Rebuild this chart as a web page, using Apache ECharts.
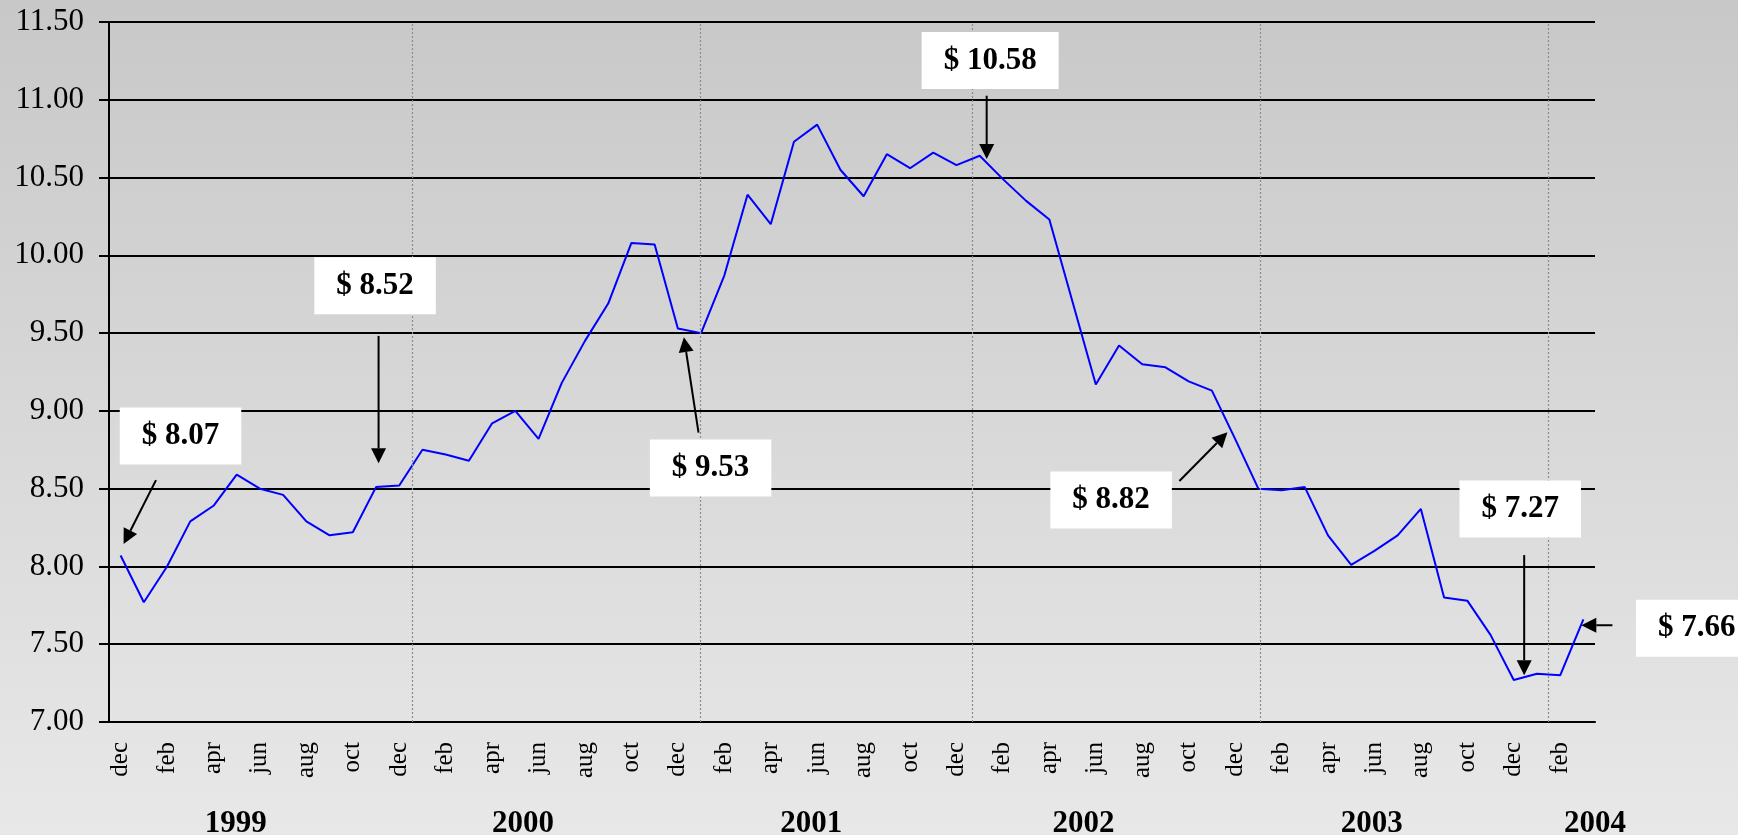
<!DOCTYPE html>
<html>
<head>
<meta charset="utf-8">
<script src="https://cdn.jsdelivr.net/npm/echarts@6/dist/echarts.min.js"></script>
<style>
  html, body { margin: 0; padding: 0; }
  #chart { width: 1738px; height: 835px; }
</style>
</head>
<body>
<div id="chart"></div>
<script>
// Monthly categories, Dec 1998 through Mar 2004
const months = [
  'dec',
  'jan','feb','mar','apr','may','jun','jul','aug','sep','oct','nov','dec',
  'jan','feb','mar','apr','may','jun','jul','aug','sep','oct','nov','dec',
  'jan','feb','mar','apr','may','jun','jul','aug','sep','oct','nov','dec',
  'jan','feb','mar','apr','may','jun','jul','aug','sep','oct','nov','dec',
  'jan','feb','mar','apr','may','jun','jul','aug','sep','oct','nov','dec',
  'jan','feb','mar'
];

// Monthly price, US$
const prices = [
  8.07,
  7.77, 8.00, 8.29, 8.39, 8.59, 8.50, 8.46, 8.29, 8.20, 8.22, 8.51, 8.52,
  8.75, 8.72, 8.68, 8.92, 9.00, 8.82, 9.18, 9.45, 9.69, 10.08, 10.07, 9.53,
  9.50, 9.87, 10.39, 10.20, 10.73, 10.84, 10.55, 10.38, 10.65, 10.56, 10.66, 10.58,
  10.64, 10.49, 10.35, 10.23, 9.70, 9.17, 9.42, 9.30, 9.28, 9.19, 9.13, 8.82,
  8.50, 8.49, 8.51, 8.20, 8.01, 8.10, 8.20, 8.37, 7.80, 7.78, 7.56, 7.27,
  7.31, 7.30, 7.66
];

// Year captions under the month labels, placed in month units from the left edge
const yearLabels = ['1999', '2000', '2001', '2002', '2003', '2004'];
const yearLabelPos = [5.46, 17.83, 30.25, 41.97, 54.39, 64.0];

// Dotted year separators (month units)
const yearBreaks = [13.05, 25.46, 37.18, 49.58, 61.98];

// Months that get a price callout
const calloutIndex = [0, 12, 24, 36, 48, 60, 63];
// Callout box centre, arrow tail and arrow tip, each as [month units, price]
const calloutBox = [
  [3.08, 8.838], [11.46, 9.804], [25.91, 8.633], [37.95, 11.252],
  [43.16, 8.427], [60.78, 8.369], [68.38, 7.603]
];
const calloutTail = [
  [2.024, 8.555], [11.61, 9.482], [25.39, 8.860], [37.80, 11.026],
  [46.10, 8.549], [60.95, 8.073], [64.75, 7.622]
];
const calloutTip = [
  [0.629, 8.1435], [11.61, 8.663], [24.76, 9.474], [37.80, 10.619],
  [48.17, 8.862], [60.95, 7.3005], [63.41, 7.622]
];

const SERIF = '"Liberation Serif", "Times New Roman", serif';

const calloutData = calloutIndex.map((idx, k) => [
  calloutBox[k][0], calloutBox[k][1],
  calloutTail[k][0], calloutTail[k][1],
  calloutTip[k][0], calloutTip[k][1],
  k
]);

function renderCallout(params, api) {
  const k = api.value(6);
  const box = api.coord([api.value(0), api.value(1)]);
  const tail = api.coord([api.value(2), api.value(3)]);
  const tip = api.coord([api.value(4), api.value(5)]);
  const dx = tip[0] - tail[0], dy = tip[1] - tail[1];
  const len = Math.hypot(dx, dy) || 1;
  const ux = dx / len, uy = dy / len;
  const headL = 15, headW = 15;
  const base = [tip[0] - ux * headL, tip[1] - uy * headL];
  const nx = -uy, ny = ux;
  const text = '$ ' + prices[calloutIndex[k]].toFixed(2);
  return {
    type: 'group',
    children: [
      {
        type: 'line',
        shape: { x1: tail[0], y1: tail[1], x2: base[0], y2: base[1] },
        style: { stroke: '#000', lineWidth: 2 }
      },
      {
        type: 'polygon',
        shape: {
          points: [
            tip,
            [base[0] + nx * headW / 2, base[1] + ny * headW / 2],
            [base[0] - nx * headW / 2, base[1] - ny * headW / 2]
          ]
        },
        style: { fill: '#000' }
      },
      {
        type: 'text',
        x: box[0],
        y: box[1],
        style: {
          text: text,
          font: 'bold 31px ' + SERIF,
          fill: '#000',
          align: 'center',
          verticalAlign: 'middle',
          backgroundColor: '#fff',
          padding: [14, 22, 12, 22]
        }
      }
    ]
  };
}

const chart = echarts.init(document.getElementById('chart'), null, { renderer: 'canvas' });

chart.setOption({
  animation: false,
  backgroundColor: {
    type: 'linear', x: 0, y: 0, x2: 0, y2: 1,
    colorStops: [
      { offset: 0, color: '#c8c8c8' },
      { offset: 1, color: '#e8e8e8' }
    ]
  },
  grid: {
    left: 109, right: 143, top: 22, bottom: 113,
    containLabel: false,
    outerBoundsMode: 'none'
  },
  xAxis: [
    {
      type: 'category',
      data: months,
      boundaryGap: true,
      axisLine: { lineStyle: { color: '#000', width: 2 } },
      axisTick: { interval: 0, length: 8, lineStyle: { color: '#000', width: 2 } },
      axisLabel: {
        interval: 1,
        rotate: 90,
        margin: 20,
        color: '#000',
        fontFamily: SERIF,
        fontSize: 25
      },
      splitLine: { show: false }
    },
    {
      type: 'value',
      min: 0,
      max: 64,
      position: 'bottom',
      axisLine: { show: false },
      axisTick: { show: false },
      splitLine: { show: false },
      axisLabel: {
        customValues: yearLabelPos,
        formatter: function (v) {
          let best = 0;
          yearLabelPos.forEach((p, i) => {
            if (Math.abs(p - v) < Math.abs(yearLabelPos[best] - v)) best = i;
          });
          return yearLabels[best];
        },
        margin: 86,
        color: '#000',
        fontFamily: SERIF,
        fontSize: 31,
        fontWeight: 'bold'
      }
    }
  ],
  yAxis: {
    type: 'value',
    min: 7,
    max: 11.5,
    interval: 0.5,
    axisLine: { show: true, lineStyle: { color: '#000', width: 2 } },
    axisTick: { show: true, length: 10, lineStyle: { color: '#000', width: 2 } },
    axisLabel: {
      formatter: v => v.toFixed(2),
      margin: 25,
      color: '#000',
      fontFamily: SERIF,
      fontSize: 31
    },
    splitLine: { show: true, lineStyle: { color: '#000', width: 2 } }
  },
  series: [
    {
      name: 'yearBreaks',
      type: 'line',
      xAxisIndex: 1,
      yAxisIndex: 0,
      data: [],
      silent: true,
      markLine: {
        silent: true,
        symbol: ['none', 'none'],
        label: { show: false },
        lineStyle: { color: '#8c8c8c', width: 1.2, type: [2, 2] },
        emphasis: { disabled: true },
        data: yearBreaks.map(v => ({ xAxis: v }))
      }
    },
    {
      name: 'price',
      type: 'line',
      xAxisIndex: 0,
      yAxisIndex: 0,
      data: prices,
      symbol: 'none',
      lineStyle: { color: '#0000ff', width: 2 },
      z: 3
    },
    {
      name: 'callouts',
      type: 'custom',
      xAxisIndex: 1,
      yAxisIndex: 0,
      data: calloutData,
      encode: { x: 0, y: 1 },
      renderItem: renderCallout,
      clip: false,
      silent: true,
      z: 5
    }
  ]
});
</script>
</body>
</html>
